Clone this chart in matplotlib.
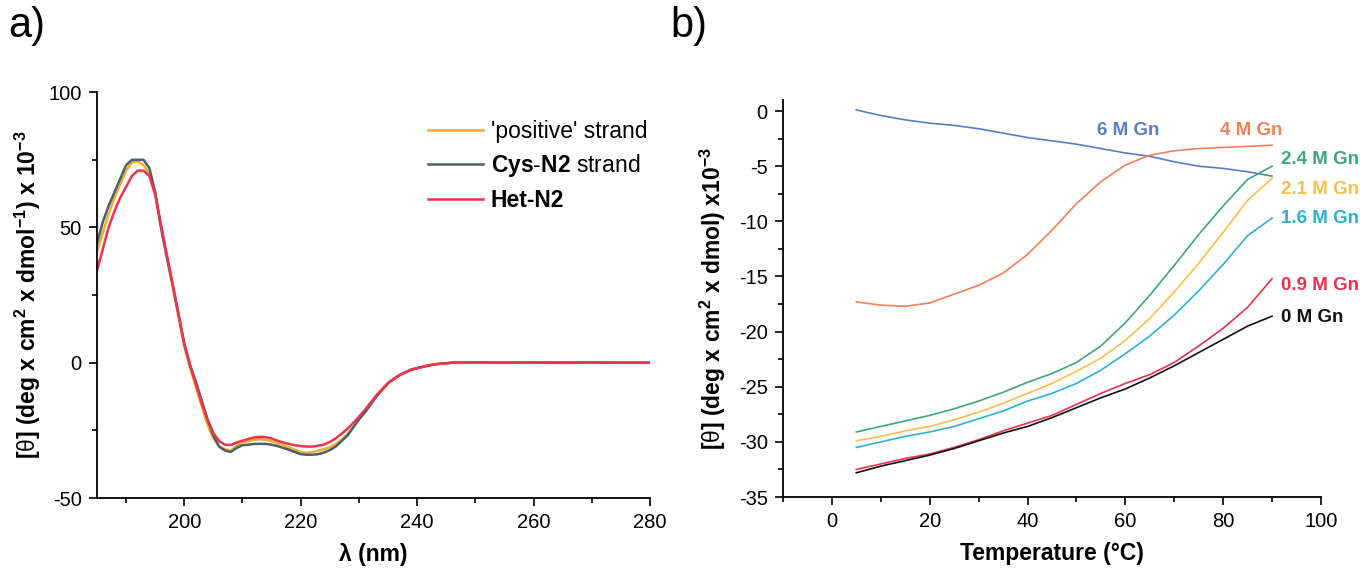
import matplotlib
matplotlib.use("Agg")
import matplotlib.pyplot as plt
from matplotlib.ticker import MultipleLocator

plt.rcParams['font.family'] = ['Liberation Sans', 'DejaVu Sans']
plt.rcParams['mathtext.fontset'] = 'custom'
plt.rcParams['mathtext.rm'] = 'Liberation Sans'
plt.rcParams['mathtext.bf'] = 'Liberation Sans:bold'
plt.rcParams['axes.unicode_minus'] = False

# ---- panel a: CD spectra ----
wavelength = list(range(185, 247)) + [250, 255, 260, 265, 270, 275, 280]

cys_n2 = [44, 52, 58, 63, 68, 73, 75, 75, 75, 72,
          63, 50, 39, 29, 18, 7, -1, -7, -14, -21,
          -27, -31, -32.5, -33, -31.5, -30.5, -30.3, -30, -30, -30,
          -30.3, -30.8, -31.5, -32.2, -33, -33.8, -34, -34, -33.8, -33.2,
          -32.3, -31, -29, -27, -24, -21, -18.5, -15.5, -12.5, -10,
          -7.5, -6, -4.5, -3.5, -2.5, -2, -1.5, -1, -0.6, -0.4,
          -0.2, 0,
          0.2, 0, 0.1, 0, 0.1, 0, 0]

positive = [41, 48, 55, 61, 66, 71, 74, 74.5, 73, 70,
            63, 50, 39, 28, 17, 6, -2, -9, -16, -23,
            -28, -31, -32, -32.5, -30.8, -29.5, -29, -28.5, -28.3, -28.5,
            -29, -29.8, -30.5, -31.3, -32.2, -33, -33.3, -33, -32.5, -32,
            -31.2, -30, -28.5, -26.5, -23.8, -20.8, -18.2, -15.3, -12.4, -10,
            -7.6, -6, -4.6, -3.5, -2.6, -2, -1.5, -1, -0.6, -0.4,
            -0.2, 0,
            0.1, 0, 0.1, -0.1, 0.1, 0, 0]

het_n2 = [34, 42, 50, 56, 61, 65, 69, 71, 71, 69,
          62, 51, 40, 29, 18, 7, -1, -8, -15, -21,
          -26, -29, -30.3, -30.4, -29.5, -28.8, -28.2, -27.6, -27.4, -27.5,
          -28, -28.8, -29.5, -30, -30.5, -30.8, -31, -31, -30.7, -30.2,
          -29.3, -28, -26.3, -24.5, -22.3, -20, -17.5, -14.8, -12, -9.8,
          -7.5, -6, -4.6, -3.5, -2.6, -2, -1.5, -1, -0.6, -0.4,
          -0.2, 0,
          0.1, 0.1, 0, 0.1, 0, 0, 0]

# ---- panel b: thermal melts ----
temperature = [5, 10, 15, 20, 25, 30, 35, 40, 45, 50, 55, 60, 65, 70, 75, 80, 85, 90]
gn_6 = [0.1, -0.4, -0.8, -1.1, -1.3, -1.6, -2.0, -2.4, -2.7, -3.0, -3.4, -3.8, -4.1, -4.6, -5.0, -5.2, -5.5, -5.9]
gn_4 = [-17.3, -17.6, -17.7, -17.4, -16.6, -15.8, -14.7, -13.0, -10.8, -8.4, -6.4, -4.9, -4.0, -3.6, -3.4, -3.3, -3.2, -3.1]
gn_24 = [-29.1, -28.6, -28.1, -27.6, -27.0, -26.3, -25.5, -24.6, -23.8, -22.8, -21.3, -19.2, -16.7, -14.0, -11.2, -8.6, -6.2, -5.0]
gn_21 = [-29.9, -29.5, -29.0, -28.6, -28.0, -27.3, -26.5, -25.6, -24.7, -23.6, -22.4, -20.8, -18.8, -16.4, -13.8, -11.0, -8.1, -6.1]
gn_16 = [-30.5, -30.0, -29.5, -29.1, -28.6, -27.9, -27.2, -26.3, -25.6, -24.7, -23.5, -22.0, -20.4, -18.5, -16.3, -13.9, -11.3, -9.7]
gn_09 = [-32.5, -32.0, -31.5, -31.1, -30.5, -29.8, -29.0, -28.3, -27.6, -26.6, -25.6, -24.7, -23.9, -22.8, -21.3, -19.7, -17.8, -15.2]
gn_0 = [-32.8, -32.2, -31.7, -31.2, -30.6, -29.9, -29.2, -28.6, -27.8, -26.9, -26.0, -25.2, -24.2, -23.1, -21.9, -20.7, -19.5, -18.6]

melt_labels = ['6 M Gn', '4 M Gn', '2.4 M Gn', '2.1 M Gn', '1.6 M Gn', '0.9 M Gn', '0 M Gn']
melt_colors = ['#5b7bc3', '#f0805c', '#3ea57c', '#f4c04e', '#2eb2cc', '#e8324f', '#111111']

fig = plt.figure(figsize=(13.6, 5.7), dpi=100)
ax1 = fig.add_axes([0.0713, 0.1263, 0.4066, 0.712])
ax2 = fig.add_axes([0.5757, 0.128, 0.3956, 0.6965])

def style_axes(ax):
    for s in ['top', 'right']:
        ax.spines[s].set_visible(False)
    for s in ['left', 'bottom']:
        ax.spines[s].set_linewidth(1.3)
    ax.tick_params(which='major', direction='out', length=6, width=1.2, labelsize=14.5, pad=5)
    ax.tick_params(which='minor', direction='out', length=3.5, width=1.2)

# panel a
ax1.plot(wavelength, positive, color='#f2ac2e', lw=1.8, label="'positive' strand")
ax1.plot(wavelength, cys_n2, color='#4b606d', lw=1.8, label=r"$\mathbf{Cys}$-$\mathbf{N2}$ strand")
ax1.plot(wavelength, het_n2, color='#ee3350', lw=1.8, label='Het-N2')
ax1.set_xlim(185, 280)
ax1.set_ylim(-50, 100)
ax1.xaxis.set_major_locator(MultipleLocator(20))
ax1.xaxis.set_minor_locator(MultipleLocator(10))
ax1.yaxis.set_major_locator(MultipleLocator(50))
ax1.yaxis.set_minor_locator(MultipleLocator(25))
style_axes(ax1)
ax1.set_xlabel('λ (nm)', fontsize=16.5, fontweight='bold', labelpad=8)
ax1.set_ylabel(r'[$\mathrm{\theta}$] (deg x cm$^{\mathbf{2}}$ x dmol$^{\mathbf{-1}}$) x 10$^{\mathbf{-3}}$',
               fontsize=16.5, fontweight='bold', labelpad=4)
leg = ax1.legend(loc='upper right', bbox_to_anchor=(0.995, 0.932), frameon=False,
                 fontsize=16.5, handlelength=2.4, handletextpad=0.35, labelspacing=0.42,
                 borderpad=0, borderaxespad=0)
leg.get_texts()[2].set_fontweight('bold')
fig.text(0.006, 0.935, 'a)', fontsize=30)

# panel b
series = [gn_6, gn_4, gn_24, gn_21, gn_16, gn_09, gn_0]
for vals, c in zip(series, melt_colors):
    ax2.plot(temperature, vals, color=c, lw=1.2)
ax2.set_xlim(-10, 100)
ax2.set_ylim(-35, 1)
ax2.xaxis.set_major_locator(MultipleLocator(20))
ax2.xaxis.set_minor_locator(MultipleLocator(10))
ax2.yaxis.set_major_locator(MultipleLocator(5))
ax2.yaxis.set_minor_locator(MultipleLocator(2.5))
style_axes(ax2)
ax2.set_xlabel('Temperature (°C)', fontsize=16.5, fontweight='bold', labelpad=8)
ax2.set_ylabel(r'[$\mathrm{\theta}$] (deg x cm$^{\mathbf{2}}$ x dmol) x10$^{\mathbf{-3}}$',
               fontsize=16.5, fontweight='bold', labelpad=8)

label_pos = [(60.6, -1.75, 'center'), (85.8, -1.75, 'center'), (91.8, -4.4, 'left'),
             (91.8, -7.1, 'left'), (91.8, -9.7, 'left'), (91.8, -15.8, 'left'), (91.8, -18.7, 'left')]
for (x, y, ha), txt, c in zip(label_pos, melt_labels, melt_colors):
    ax2.text(x, y, txt, color=c, fontsize=13.5, fontweight='bold', ha=ha, va='center', clip_on=False)
fig.text(0.493, 0.935, 'b)', fontsize=30)

fig.savefig('out.png', dpi=100)
